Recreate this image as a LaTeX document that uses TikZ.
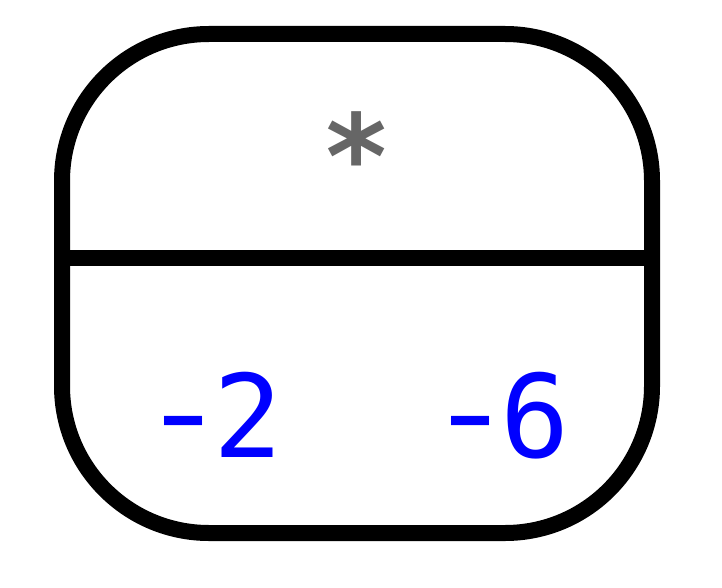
\documentclass[tikz,border=0pt]{standalone}
\usepackage{fontspec}
\newfontfamily\dvmono{DejaVu Sans Mono}
\newcommand{\negsign}{\makebox[0.602em][c]{\hspace{10pt}\raisebox{5pt}{\scalebox{1.3}[1]{\makebox[0.3em]{-}}}}}
\tikzset{
  frame/.style={draw=black, line width=16pt, rounded corners=147pt},
  sep/.style={draw=black, line width=16pt},
  numtxt/.style={text=blue, inner sep=0pt, anchor=base, font=\dvmono\fontsize{115}{115}\selectfont},
  optxt/.style={text=black!60, inner sep=0pt, font=\dvmono\bfseries\fontsize{117}{117}\selectfont}
}
\begin{document}
\begin{tikzpicture}[x=1pt,y=1pt]
\useasboundingbox (0,0) rectangle (722,-588);
\draw[frame] (62,-34) rectangle (652,-533);
\coordinate (l) at (62,-258);
\coordinate (r) at (652,-258);
\draw[sep] (l) -- (r);
\node[optxt] (op) at (357,-155) {*};
\node[numtxt] (a) at (213,-457) {\negsign2};
\node[numtxt] (b) at (500,-457) {\negsign6};
\end{tikzpicture}
\end{document}
